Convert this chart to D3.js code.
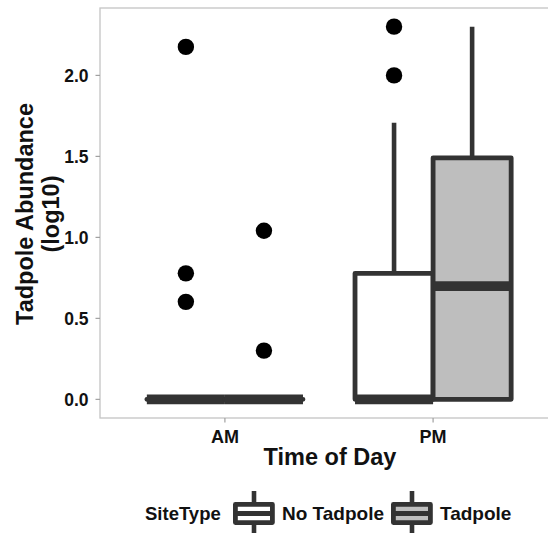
<!DOCTYPE html>
<html>
<head>
<meta charset="utf-8">
<script src="https://cdnjs.cloudflare.com/ajax/libs/d3/7.8.5/d3.min.js"></script>
<style>
  body { margin: 0; background: #fff; }
  svg text { font-family: "Liberation Sans", Arial, sans-serif; font-weight: bold; }
</style>
</head>
<body>
<svg id="chart" width="548" height="533"></svg>
<script>
// Data (log10 tadpole abundance)
const times = ["AM", "PM"];
const siteTypes = ["No Tadpole", "Tadpole"];
const siteFills = ["#FFFFFF", "#BEBEBE"];

// box stats per time x site: [whiskerLow, q1, median, q3, whiskerHigh]
const statsAM = [[0, 0, 0, 0, 0], [0, 0, 0, 0, 0]];
const statsPM = [[0, 0, 0, 0.778, 1.708], [0, 0, 0.699, 1.491, 2.301]];

// outliers per time x site
const outliersAM = [[2.176, 0.778, 0.602], [1.041, 0.301]];
const outliersPM = [[2.301, 2.0], []];

const yTicks = [0, 0.5, 1.0, 1.5, 2.0];

const svg = d3.select("#chart");
const ink = "#333333";

// Panel
const panel = { left: 100, top: 8, right: 558, bottom: 418 };

const boxes = [];
const points = [];
[statsAM, statsPM].forEach((stats, ti) => {
    stats.forEach((s, si) => {
        boxes.push({ time: times[ti], site: si, low: s[0], q1: s[1], med: s[2], q3: s[3], high: s[4] });
    });
});
[outliersAM, outliersPM].forEach((outs, ti) => {
    outs.forEach((vals, si) => {
        vals.forEach((v) => points.push({ time: times[ti], site: si, value: v }));
    });
});

const allValues = boxes.flatMap((b) => [b.low, b.high]).concat(points.map((p) => p.value));
const yMin = d3.min(allValues);
const yMax = d3.max(allValues);
const pad = (yMax - yMin) * 0.05;

const y = d3.scaleLinear()
    .domain([yMin - pad, yMax + pad])
    .range([panel.bottom, panel.top]);

const x = d3.scalePoint()
    .domain(times)
    .range([panel.left, panel.right])
    .padding(0.6);

const boxWidth = x.step() * 0.375;
const boxCenter = (d) => x(d.time) + (d.site - 0.5) * boxWidth;

// Panel background / border
svg.append("rect")
    .attr("x", panel.left)
    .attr("y", panel.top)
    .attr("width", panel.right - panel.left)
    .attr("height", panel.bottom - panel.top)
    .attr("fill", "#fff")
    .attr("stroke", "#c4c4c4")
    .attr("stroke-width", 1.3);

// Y axis ticks and labels
const yAxis = svg.append("g");
yTicks.forEach((t) => {
    yAxis.append("line")
        .attr("x1", panel.left - 4.5).attr("x2", panel.left)
        .attr("y1", y(t)).attr("y2", y(t))
        .attr("stroke", "#a0a0a0").attr("stroke-width", 1.2);
    yAxis.append("text")
        .attr("x", panel.left - 11.5)
        .attr("y", y(t))
        .attr("dy", "0.36em")
        .attr("text-anchor", "end")
        .attr("font-size", 17.5)
        .attr("fill", "#111")
        .text(d3.format(".1f")(t));
});

// X axis ticks and labels
const xAxis = svg.append("g");
times.forEach((t) => {
    xAxis.append("line")
        .attr("x1", x(t)).attr("x2", x(t))
        .attr("y1", panel.bottom).attr("y2", panel.bottom + 4.5)
        .attr("stroke", "#a0a0a0").attr("stroke-width", 1.2);
    xAxis.append("text")
        .attr("x", x(t))
        .attr("y", 443)
        .attr("text-anchor", "middle")
        .attr("font-size", 18)
        .attr("fill", "#111")
        .text(t);
});

// Axis titles
svg.append("text")
    .attr("x", (panel.left + 548) / 2 + 6)
    .attr("y", 465)
    .attr("text-anchor", "middle")
    .attr("font-size", 23.5)
    .attr("fill", "#111")
    .text("Time of Day");

const yTitle = svg.append("text")
    .attr("transform", "translate(33," + ((panel.top + panel.bottom) / 2 + 1) + ") rotate(-90)")
    .attr("text-anchor", "middle")
    .attr("font-size", 23.5)
    .attr("fill", "#111");
yTitle.append("tspan").attr("x", 0).attr("y", 0).text("Tadpole Abundance");
yTitle.append("tspan").attr("x", 0).attr("y", 25.5).text("(log10)");

// Boxes
const gBox = svg.append("g");
boxes.forEach((d) => {
    const cx = boxCenter(d);
    const x0 = cx - boxWidth / 2;
    const x1 = cx + boxWidth / 2;
    // whiskers
    if (d.high > d.q3) {
        gBox.append("line")
            .attr("x1", cx).attr("x2", cx)
            .attr("y1", y(d.q3)).attr("y2", y(d.high))
            .attr("stroke", ink).attr("stroke-width", 4.6);
    }
    if (d.low < d.q1) {
        gBox.append("line")
            .attr("x1", cx).attr("x2", cx)
            .attr("y1", y(d.q1)).attr("y2", y(d.low))
            .attr("stroke", ink).attr("stroke-width", 4.6);
    }
    // box
    const path = d3.path();
    path.moveTo(x0, y(d.q1));
    path.lineTo(x1, y(d.q1));
    path.lineTo(x1, y(d.q3));
    path.lineTo(x0, y(d.q3));
    path.closePath();
    gBox.append("path")
        .attr("d", path.toString())
        .attr("fill", siteFills[d.site])
        .attr("stroke", ink)
        .attr("stroke-width", 4.8)
        .attr("stroke-linejoin", "round");
    // median
    gBox.append("line")
        .attr("x1", x0).attr("x2", x1)
        .attr("y1", y(d.med)).attr("y2", y(d.med))
        .attr("stroke", ink)
        .attr("stroke-width", 9.6);
});

// Outliers
svg.append("g").selectAll("circle")
    .data(points)
    .join("circle")
    .attr("cx", (d) => boxCenter(d))
    .attr("cy", (d) => y(d.value))
    .attr("r", 8.2)
    .attr("fill", "#000");

// Legend
const legend = svg.append("g");
legend.append("text")
    .attr("x", 145)
    .attr("y", 520)
    .attr("font-size", 18.5)
    .attr("fill", "#111")
    .text("SiteType");

const keyX = [233, 391];
siteTypes.forEach((name, i) => {
    const kx = keyX[i];
    const kcx = kx + 21;
    const key = legend.append("g");
    key.append("line")
        .attr("x1", kcx).attr("x2", kcx)
        .attr("y1", 491).attr("y2", 540)
        .attr("stroke", ink).attr("stroke-width", 4.6);
    key.append("rect")
        .attr("x", kx + 2.4).attr("y", 504.4)
        .attr("width", 37).attr("height", 18.2)
        .attr("fill", siteFills[i])
        .attr("stroke", ink).attr("stroke-width", 4.8)
        .attr("stroke-linejoin", "round");
    key.append("line")
        .attr("x1", kx + 2.4).attr("x2", kx + 39.4)
        .attr("y1", 513.5).attr("y2", 513.5)
        .attr("stroke", ink).attr("stroke-width", 4.8);
    legend.append("text")
        .attr("x", kx + 49)
        .attr("y", 520)
        .attr("font-size", 19)
        .attr("fill", "#111")
        .text(name);
});
</script>
</body>
</html>
